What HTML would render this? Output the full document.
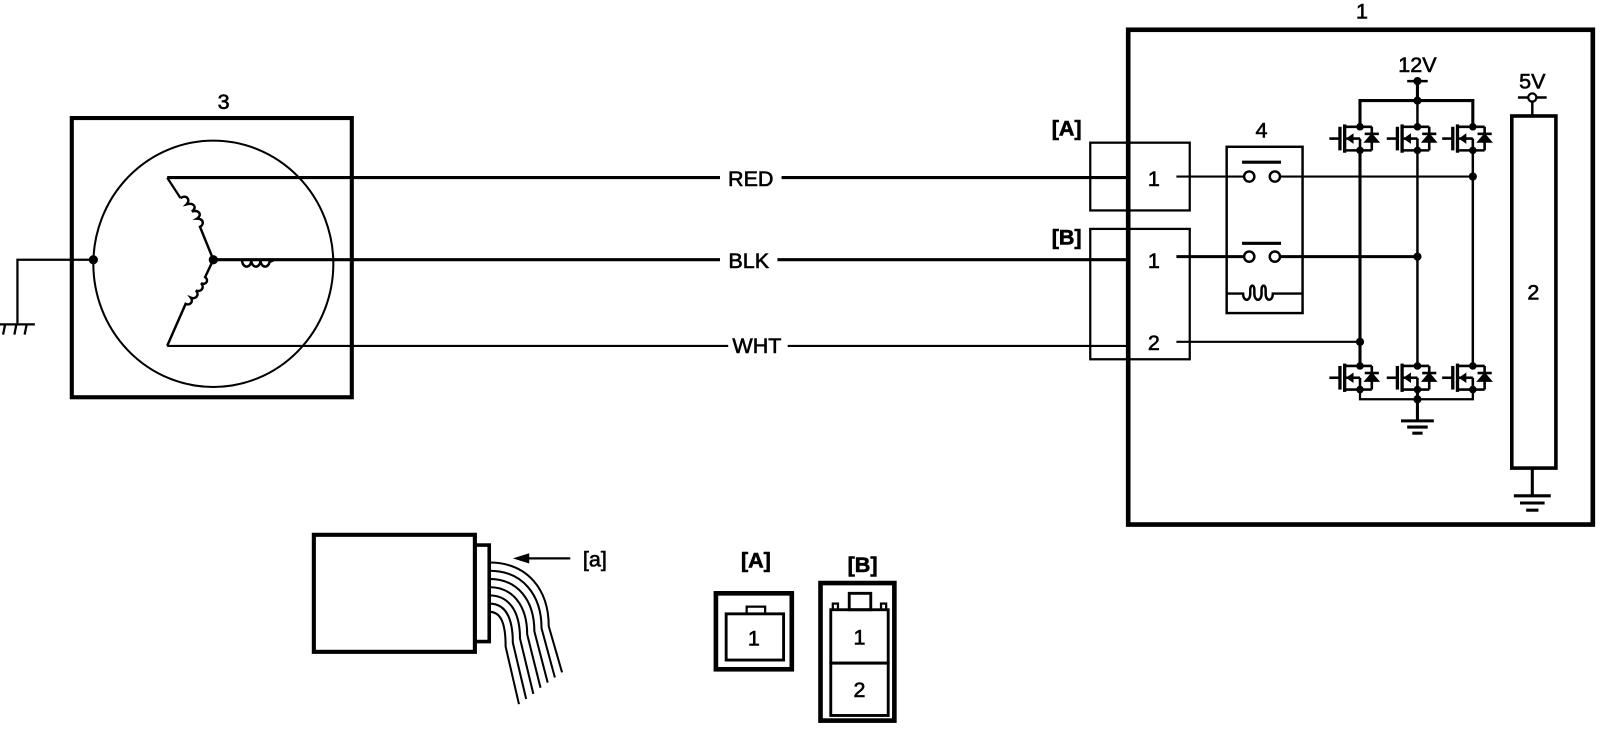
<!DOCTYPE html>
<html><head><meta charset="utf-8"><style>
html,body{margin:0;padding:0;background:#fff;}
svg{display:block;}
text{font-family:"Liberation Sans",Arial,sans-serif;fill:#000;stroke:#000;stroke-width:0.6;}
</style></head><body>
<svg width="1600" height="736" viewBox="0 0 1560 717" preserveAspectRatio="none" xmlns="http://www.w3.org/2000/svg">
<defs>
<g id="fet" stroke="#000" fill="none" stroke-width="2.2">
  <line x1="-26" y1="0" x2="-17" y2="0"/>
  <line x1="-17" y1="-10" x2="-17" y2="10" stroke-width="2.8"/>
  <line x1="-13" y1="-12" x2="-13" y2="12" stroke-width="2.8"/>
  <line x1="-13" y1="-10" x2="10" y2="-10"/>
  <line x1="-13" y1="10" x2="10" y2="10"/>
  <line x1="-13" y1="0" x2="0" y2="0"/>
  <line x1="0" y1="0" x2="0" y2="10"/>
  <polygon points="-11,0 -6,-3.5 -6,3.5" fill="#000" stroke-width="1"/>
  <line x1="10" y1="-10" x2="10" y2="10"/>
  <polygon points="4,3 16,3 10,-4" fill="#000" stroke-width="1"/>
  <line x1="4" y1="-4" x2="16" y2="-4"/>
  <circle cx="0" cy="-10" r="3.2" fill="#000" stroke="none"/>
  <circle cx="0" cy="10" r="3.2" fill="#000" stroke="none"/>
</g>
</defs>
<g stroke="#000" fill="none">
<rect x="70" y="115" width="273" height="272" stroke-width="4"/>
<ellipse cx="208" cy="257" rx="117" ry="120" stroke-width="2"/>
<polyline points="163,173 176,193" stroke-width="2.2"/>
<path d="M176,193 c6,-4 10,2 6,6 c8,-2 10,4 5,7 c8,-2 10,4 5,7 c7,0 7,6 3,8 L208,253" stroke-width="2.4"/>
<path d="M208,253 L200,270 c4,3 1,8 -4,6 c4,4 0,9 -5,7 c4,4 0,9 -5,7 c3,4 -1,8 -5,6 L163,337" stroke-width="2.4"/>
<path d="M208,253 L236,253 c0,9 9,9 9,0 c0,9 9,9 9,0 c0,9 9,9 9,0 c0,4 3,0 5,0" stroke-width="2.4"/>
<polyline points="91,253 17,253 17,316" stroke-width="2.2"/>
<line x1="0" y1="316" x2="34" y2="316" stroke-width="2.2"/>
<line x1="5" y1="316" x2="3" y2="326" stroke-width="2.2"/>
<line x1="16" y1="316" x2="14" y2="326" stroke-width="2.2"/>
<line x1="26" y1="316" x2="24" y2="326" stroke-width="2.2"/>
<line x1="163" y1="173" x2="1100" y2="173" stroke-width="3"/>
<line x1="208" y1="253" x2="1100" y2="253" stroke-width="3"/>
<line x1="163" y1="337" x2="1100" y2="337" stroke-width="2"/>
<rect x="1100" y="29" width="453" height="482" stroke-width="4.5"/>
<rect x="1063" y="139" width="97" height="66" stroke-width="2.2"/>
<rect x="1063" y="223" width="97" height="127" stroke-width="2.2"/>
<rect x="1196" y="143" width="74" height="162" stroke-width="2.4"/>
<line x1="1147" y1="172" x2="1212" y2="172" stroke-width="2"/>
<circle cx="1218" cy="172" r="5" stroke-width="2.4"/>
<circle cx="1243" cy="172" r="5" stroke-width="2.4"/>
<line x1="1211" y1="158" x2="1249" y2="158" stroke-width="3"/>
<line x1="1248" y1="172" x2="1436" y2="172" stroke-width="2"/>
<line x1="1147" y1="250" x2="1212" y2="250" stroke-width="3"/>
<circle cx="1218" cy="250" r="5" stroke-width="2.4"/>
<circle cx="1243" cy="250" r="5" stroke-width="2.4"/>
<line x1="1211" y1="237" x2="1249" y2="237" stroke-width="3"/>
<line x1="1248" y1="250" x2="1382" y2="250" stroke-width="3"/>
<path d="M1196,286 L1212,286 c0,8 7,8 7,0 l0,-4 c0,-5 4,-5 4,0 l0,4 c0,8 7,8 7,0 l0,-4 c0,-5 4,-5 4,0 l0,4 c0,8 7,8 7,0 L1270,286" stroke-width="2.4"/>
<line x1="1147" y1="333" x2="1326" y2="333" stroke-width="2"/>
<line x1="1372" y1="79" x2="1392" y2="79" stroke-width="2.4"/>
<line x1="1382" y1="79" x2="1382" y2="98" stroke-width="3"/>
<polyline points="1326,122 1326,98 1436,98 1436,122" stroke-width="3"/>
<line x1="1382" y1="98" x2="1382" y2="122" stroke-width="2.4"/>
<line x1="1326" y1="145" x2="1326" y2="358" stroke-width="3"/>
<line x1="1382" y1="145" x2="1382" y2="358" stroke-width="2.4"/>
<line x1="1436" y1="145" x2="1436" y2="358" stroke-width="2.4"/>
<polyline points="1326,378 1326,389 1436,389 1436,378" stroke-width="2.2"/>
<line x1="1382" y1="378" x2="1382" y2="410" stroke-width="3"/>
<line x1="1366" y1="410" x2="1398" y2="410" stroke-width="3"/>
<line x1="1372" y1="416" x2="1392" y2="416" stroke-width="3"/>
<line x1="1377" y1="422" x2="1387" y2="422" stroke-width="3"/>
<rect x="1474" y="113" width="43" height="343" stroke-width="3.5"/>
<line x1="1480" y1="95" x2="1508" y2="95" stroke-width="2.4"/>
<line x1="1494" y1="99" x2="1494" y2="113" stroke-width="2.4"/>
<line x1="1494" y1="456" x2="1494" y2="483" stroke-width="3"/>
<line x1="1476" y1="483" x2="1512" y2="483" stroke-width="3"/>
<line x1="1482" y1="490" x2="1506" y2="490" stroke-width="3"/>
<line x1="1488" y1="497" x2="1500" y2="497" stroke-width="3"/>
<rect x="306" y="521" width="157" height="114" stroke-width="4"/>
<rect x="463" y="531" width="14" height="94" stroke-width="3.5"/>
<g stroke-width="2">
<path d="M477,548 C515,548 535,575 535,610 L548,655"/>
<path d="M477,556 C510,556 528,580 528,612 L541,660"/>
<path d="M477,564 C505,564 521,585 521,615 L534,665"/>
<path d="M477,572 C500,572 514,590 514,618 L527,670"/>
<path d="M477,580 C496,580 507,595 507,622 L520,676"/>
<path d="M477,588 C492,588 500,600 500,626 L513,681"/>
<path d="M477,596 C488,596 493,606 493,630 L506,686"/>
</g>
<line x1="512" y1="544" x2="556" y2="544" stroke-width="2.2"/>
<polygon points="500,544 516,539 516,549" fill="#000" stroke="none"/>
<rect x="698" y="578" width="74" height="74" stroke-width="4.5"/>
<rect x="708" y="598" width="56" height="45" stroke-width="2.8"/>
<rect x="728" y="591" width="18" height="7" stroke-width="2.2"/>
<rect x="800" y="568" width="72" height="134" stroke-width="4.5"/>
<rect x="810" y="594" width="56" height="52" stroke-width="2.8"/>
<rect x="810" y="646" width="56" height="51" stroke-width="2.8"/>
<rect x="828" y="578" width="21" height="16" stroke-width="2.8"/>
<rect x="812" y="588" width="5" height="6" stroke-width="2.2"/>
<rect x="859" y="588" width="5" height="6" stroke-width="2.2"/>
</g>
<circle cx="91" cy="253" r="4.5" fill="#000"/>
<circle cx="208" cy="253" r="4.5" fill="#000"/>
<circle cx="1436" cy="172" r="4" fill="#000"/>
<circle cx="1382" cy="250" r="4" fill="#000"/>
<circle cx="1326" cy="333" r="4" fill="#000"/>
<circle cx="1382" cy="79" r="4" fill="#000"/>
<circle cx="1382" cy="98" r="4" fill="#000"/>
<circle cx="1382" cy="389" r="4" fill="#000"/>
<circle cx="1494" cy="95" r="4" fill="#fff" stroke="#000" stroke-width="2.2"/>
<g transform="translate(1326,135) scale(1.15)"><use href="#fet"/></g>
<g transform="translate(1382,135) scale(1.15)"><use href="#fet"/></g>
<g transform="translate(1436,135) scale(1.15)"><use href="#fet"/></g>
<g transform="translate(1326,368) scale(1.15)"><use href="#fet"/></g>
<g transform="translate(1382,368) scale(1.15)"><use href="#fet"/></g>
<g transform="translate(1436,368) scale(1.15)"><use href="#fet"/></g>
<rect x="702" y="160" width="60" height="24" fill="#fff"/>
<rect x="702" y="240" width="56" height="24" fill="#fff"/>
<rect x="710" y="322" width="58" height="24" fill="#fff"/>
<g font-size="21" text-anchor="middle">
<text x="732" y="181">RED</text>
<text x="730" y="261">BLK</text>
<text x="738" y="344">WHT</text>
<text x="218" y="106">3</text>
<text x="1328" y="18">1</text>
<text x="1230" y="134">4</text>
<text x="1125" y="181">1</text>
<text x="1125" y="261">1</text>
<text x="1125" y="341">2</text>
<text x="1382" y="70">12V</text>
<text x="1494" y="86">5V</text>
<text x="1495" y="292">2</text>
<text x="735" y="629">1</text>
<text x="838" y="628">1</text>
<text x="838" y="679">2</text>
<text x="580" y="552">[a]</text>
</g>
<g font-size="21" font-weight="bold" text-anchor="middle">
<text x="1040" y="132">[A]</text>
<text x="1040" y="238">[B]</text>
<text x="737" y="553">[A]</text>
<text x="841" y="557">[B]</text>
</g>
</svg>
</body></html>
